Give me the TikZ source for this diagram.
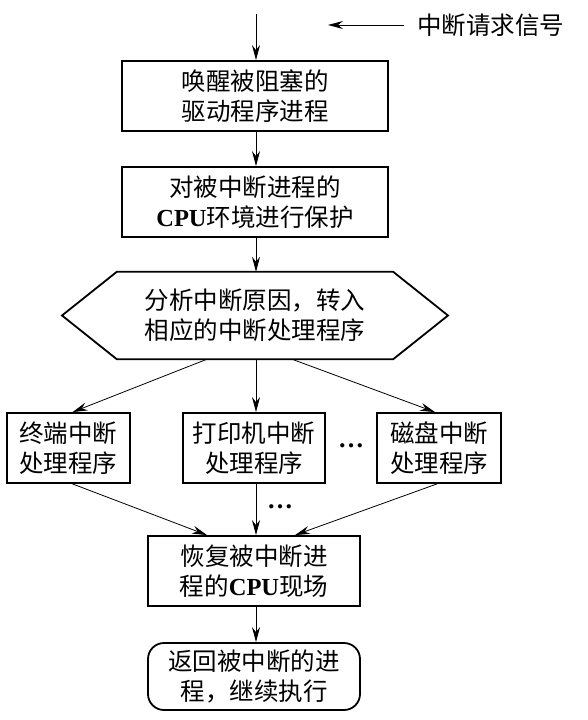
\documentclass[tikz,border=0pt]{standalone}
\usepackage{fontspec}
\newfontfamily\cjk{Noto Sans CJK SC}
\newfontfamily\latinbold{Liberation Serif}
\newcommand{\cpu}{{\latinbold\bfseries CPU}}
\usetikzlibrary{arrows.meta,calc}
\begin{document}
\begin{tikzpicture}[x=1pt,y=-1pt,
  txt/.style={font=\cjk\fontsize{24.5}{30}\selectfont, align=center, inner sep=0pt},
  boxn/.style={txt, draw, line width=1.8pt, minimum height=70pt},
  arr/.style={line width=0.8pt, -{Stealth[length=15pt,width=8pt,inset=5pt]}},
  dots/.style={font=\latinbold\bfseries\fontsize{26}{26}\selectfont, inner sep=0pt}
]
\useasboundingbox (0,0) rectangle (588,720);

\coordinate (t0) at (256,14);
\coordinate (rq) at (328,25);
\node[txt, anchor=west] (sig) at (417,25) {中断请求信号};

\node[boxn, minimum width=266pt] (b1) at (255,96) {唤醒被阻塞的\\驱动程序进程};
\node[boxn, minimum width=266pt] (b2) at (255,202) {对被中断进程的\\\cpu{}环境进行保护};

\node[txt, minimum width=276pt, minimum height=87pt] (hex) at (255,315.5) {分析中断原因，转入\\相应的中断处理程序};
\coordinate (hl) at (62,315.5);
\coordinate (hr) at (448,315.5);
\draw[line width=1.8pt, line join=miter] (hl) -- (hex.north west) -- (hex.north east) -- (hr) -- (hex.south east) -- (hex.south west) -- cycle;

\node[boxn, minimum width=123pt] (L) at (68.5,448) {终端中断\\处理程序};
\node[boxn, minimum width=142pt] (M) at (254,448) {打印机中断\\处理程序};
\node[boxn, minimum width=124pt] (R) at (439,448) {磁盘中断\\处理程序};
\node[dots] (d1) at (351,446) {…};
\node[dots] (d2) at (280,507) {…};

\node[boxn, minimum width=212pt] (b5) at (254,571) {恢复被中断进\\程的\cpu{}现场};
\node[boxn, minimum width=212pt, minimum height=67pt, rounded corners=16pt] (b6) at (254,676.5) {返回被中断的进\\程，继续执行};

\draw[arr] (t0) -- (b1.north -| t0);
\draw[arr] ([xshift=-13pt]sig.west) -- (rq);
\draw[arr] (b1.south -| t0) -- (b2.north -| t0);
\draw[arr] (b2.south -| t0) -- (hex.north -| t0);
\draw[arr] ($(hex.south)+(-48,0)$) -- ($(L.north)+(4,0)$);
\draw[arr] (hex.south -| t0) -- (M.north -| t0);
\draw[arr] ($(hex.south)+(37,0)$) -- ($(R.north)+(-4,0)$);
\draw[arr] ($(L.south)+(4,0)$) -- ($(b5.north)+(-47,0)$);
\draw[arr] (M.south -| t0) -- (b5.north -| t0);
\draw[arr] ($(R.south)+(-2,0)$) -- ($(b5.north)+(41,0)$);
\draw[arr] (b5.south -| t0) -- (b6.north -| t0);
\end{tikzpicture}
\end{document}
